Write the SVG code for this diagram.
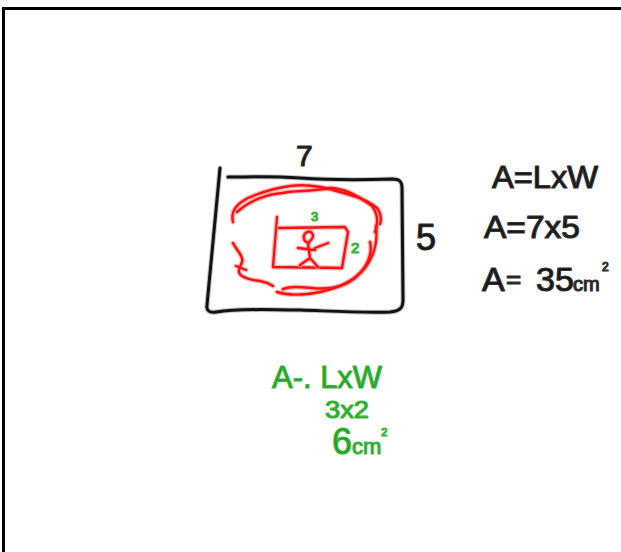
<svg xmlns="http://www.w3.org/2000/svg" width="621" height="552" viewBox="0 0 621 552">
<style>
.halo-k{fill:none;stroke:#9a9a9a;stroke-width:5;stroke-linecap:round;stroke-linejoin:round;opacity:.6}
.ink-k{fill:none;stroke:#111;stroke-width:3;stroke-linecap:round;stroke-linejoin:round}
.halo-r{fill:none;stroke:#ff9090;stroke-width:5;stroke-linecap:round;stroke-linejoin:round;opacity:.6}
.ink-r{fill:none;stroke:#ff1010;stroke-width:2.4;stroke-linecap:round;stroke-linejoin:round}
.tk{font-family:"Liberation Sans","DejaVu Sans",sans-serif;fill:#111;stroke:#333;stroke-width:1.2;stroke-linejoin:round}
.tg{font-family:"Liberation Sans","DejaVu Sans",sans-serif;fill:#1fa01f;stroke:#3cb83c;stroke-width:1.2;stroke-linejoin:round}
</style>
<rect width="621" height="552" fill="#fff"/>
<path d="M3.5,552 V8.5 H621" fill="none" stroke="#000" stroke-width="3"/>

<g id="outer-rect">
<path class="halo-k" d="M220,168 L207,305 C206,311 210,313 216,312 C240,308 270,310 300,310 C330,311 360,313 390,312 C400,311 403,308 403,300 L402,188 C402,181 399,179 392,179 C360,180 330,180 300,178 C270,176 250,177 228,177"/>
<path class="ink-k" d="M220,168 L207,305 C206,311 210,313 216,312 C240,308 270,310 300,310 C330,311 360,313 390,312 C400,311 403,308 403,300 L402,188 C402,181 399,179 392,179 C360,180 330,180 300,178 C270,176 250,177 228,177"/>
</g>

<g id="red-loop">
<path class="halo-r" d="M233,222 C230,210 238,203 248,198 C262,192 275,188 290,186 C305,184 322,186 340,192 C355,196 368,200 377,208 C382,214 381,222 380,224"/>
<path class="halo-r" d="M237,212 C250,200 268,194 282,193 C295,190 310,192 330,188 C345,188 360,197 372,206 C378,214 378,224 375,232"/>
<path class="halo-r" d="M376,226 C378,242 374,256 365,268 C355,280 340,288 320,292 C305,295 290,296 277,292"/>
<path class="halo-r" d="M370,242 C373,256 366,268 355,278 C345,286 330,290 312,288 C300,287 292,286 283,289"/>
<path class="halo-r" d="M233,243 C236,250 244,256 242,262 C240,268 236,272 242,276 C248,280 254,280 260,281 C266,282 270,284 273,286"/>
<path class="halo-r" d="M236,266 L246,270"/>
<path class="ink-r" d="M233,222 C230,210 238,203 248,198 C262,192 275,188 290,186 C305,184 322,186 340,192 C355,196 368,200 377,208 C382,214 381,222 380,224"/>
<path class="ink-r" d="M237,212 C250,200 268,194 282,193 C295,190 310,192 330,188 C345,188 360,197 372,206 C378,214 378,224 375,232"/>
<path class="ink-r" d="M376,226 C378,242 374,256 365,268 C355,280 340,288 320,292 C305,295 290,296 277,292"/>
<path class="ink-r" d="M370,242 C373,256 366,268 355,278 C345,286 330,290 312,288 C300,287 292,286 283,289"/>
<path class="ink-r" d="M233,243 C236,250 244,256 242,262 C240,268 236,272 242,276 C248,280 254,280 260,281 C266,282 270,284 273,286"/>
<path class="ink-r" d="M236,266 L246,270"/>
</g>

<g id="inner-rect">
<path class="halo-r" d="M277,217 L273,267 L342,268 L348,232 L345,227 L279,228"/>
<path class="ink-r" d="M277,217 L273,267 L342,268 L348,232 L345,227 L279,228"/>
</g>

<g id="stick-figure">
<path class="halo-r" d="M309,243 C303,242 302,235 307,232 C312,230 315,236 311,240 C309,242 308,243 308,244 L310,258 M298,248 L315,250 M315,248 L328,243 M310,258 L300,265 M310,258 L318,267"/>
<path class="ink-r" d="M309,243 C303,242 302,235 307,232 C312,230 315,236 311,240 C309,242 308,243 308,244 L310,258 M298,248 L315,250 M315,248 L328,243 M310,258 L300,265 M310,258 L318,267"/>
</g>

<g id="labels-black">
<text class="tk" x="296" y="166" font-size="30">7</text>
<text class="tk" x="416" y="250" font-size="36">5</text>
<text class="tk" x="492" y="188" font-size="31" textLength="106" lengthAdjust="spacingAndGlyphs">A=LxW</text>
<text class="tk" x="484" y="238" font-size="31" textLength="96" lengthAdjust="spacingAndGlyphs">A=7x5</text>
<text class="tk" y="291" font-size="34"><tspan x="482">A</tspan><tspan x="506" font-size="26" dy="-3">=</tspan><tspan x="536" dy="3">35</tspan><tspan x="573" font-size="20">cm</tspan><tspan x="602" font-size="12" dy="-20">2</tspan></text>
</g>

<g id="labels-green">
<text class="tg" x="311" y="221" font-size="13">3</text>
<text class="tg" x="351" y="253" font-size="15">2</text>
<text class="tg" x="272" y="388" font-size="32" textLength="110" lengthAdjust="spacingAndGlyphs">A-. LxW</text>
<text class="tg" x="325" y="418" font-size="24" textLength="44" lengthAdjust="spacingAndGlyphs">3x2</text>
<text class="tg" x="332" y="454" font-size="36">6<tspan font-size="22">cm</tspan><tspan font-size="11" dy="-18">2</tspan></text>
</g>
</svg>
